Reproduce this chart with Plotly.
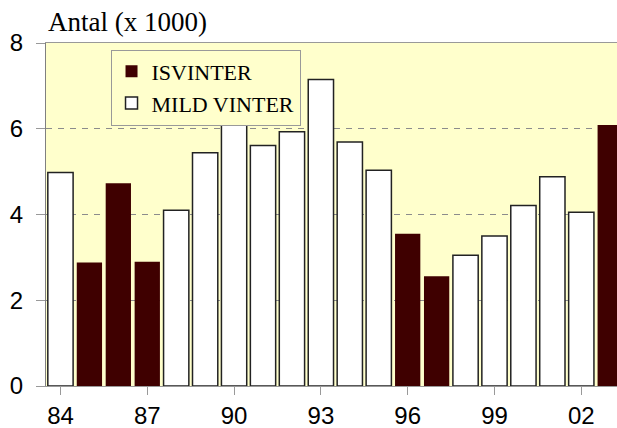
import plotly.graph_objects as go

# Winter seasons 1984-2003, count in thousands
years = ["84", "85", "86", "87", "88", "89", "90", "91", "92", "93",
         "94", "95", "96", "97", "98", "99", "00", "01", "02", "03"]
values = [4.98, 2.88, 4.73, 2.90, 4.10, 5.44, 6.50, 5.61, 5.93, 7.15,
          5.69, 5.03, 3.55, 2.56, 3.05, 3.50, 4.21, 4.88, 4.05, 6.09]
ice_winter = [False, True, True, True, False, False, False, False, False, False,
              False, False, True, True, False, False, False, False, False, True]
tick_years = ["84", "87", "90", "93", "96", "99", "02"]

ice_x = [y for y, f in zip(years, ice_winter) if f]
ice_y = [v for v, f in zip(values, ice_winter) if f]
mild_x = [y for y, f in zip(years, ice_winter) if not f]
mild_y = [v for v, f in zip(values, ice_winter) if not f]

serif = "Liberation Serif, Times New Roman, serif"
sans = "Liberation Sans, Arial, sans-serif"

fig = go.Figure()
fig.add_trace(go.Bar(
    x=ice_x, y=ice_y, name="ISVINTER",
    marker=dict(color="#3f0000", line=dict(width=0)),
))
fig.add_trace(go.Bar(
    x=mild_x, y=mild_y, name="MILD VINTER",
    marker=dict(color="#ffffff", line=dict(color="#222222", width=1.5)),
))

fig.update_layout(
    width=617, height=428,
    margin=dict(l=46, r=0, t=43, b=42),
    paper_bgcolor="#ffffff",
    plot_bgcolor="#ffffcc",
    barmode="overlay",
    bargap=0.126,
    showlegend=True,
    legend=dict(
        x=0.113, y=0.981, xanchor="left", yanchor="top",
        bgcolor="#ffffcc", bordercolor="#999999", borderwidth=1,
        font=dict(family=serif, size=22, color="#000000"),
        traceorder="normal", itemwidth=30, tracegroupgap=0,
    ),
    annotations=[dict(
        text="Antal (x 1000)", xref="paper", yref="paper",
        x=0, y=1, xanchor="left", yanchor="bottom", yshift=4, showarrow=False,
        font=dict(family=serif, size=27, color="#000000"),
    )],
)

fig.update_xaxes(
    type="category", categoryorder="array", categoryarray=years,
    range=[-0.5, 19.234],
    tickmode="array", tickvals=tick_years, ticktext=tick_years,
    ticks="outside", ticklen=8, tickcolor="#999999",
    showline=True, linecolor="#999999", linewidth=1, mirror=True,
    showgrid=False,
    tickfont=dict(family=sans, size=24, color="#000000"),
)
fig.update_yaxes(
    range=[0, 8], tickmode="array", tickvals=[0, 2, 4, 6, 8],
    ticks="outside", ticklen=9, tickcolor="#999999",
    showline=True, linecolor="#808080", linewidth=1,
    showgrid=True, gridcolor="#8c8c8c", gridwidth=1, griddash="6px,6px",
    zeroline=False,
    tickfont=dict(family=sans, size=24, color="#000000"),
    ticklabelstandoff=8,
)

fig.write_html("out.html")
